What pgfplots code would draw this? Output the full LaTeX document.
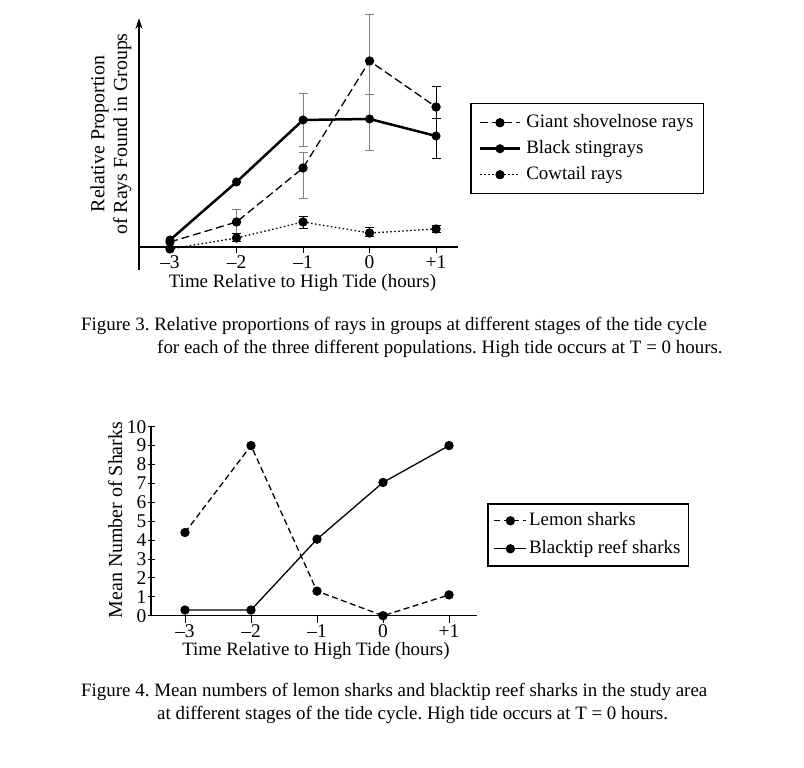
\documentclass[border=0pt]{standalone}
\usepackage{pgfplots}
\pgfplotsset{compat=1.18}
\usepackage{fontspec}
\setmainfont{Liberation Serif}
\usetikzlibrary{arrows.meta}
\newcommand{\ff}{\fontsize{19}{23}\selectfont\frenchspacing}
\newcommand{\fl}{\fontsize{20}{23}\selectfont}
\newcommand{\ft}{\fontsize{19.5}{23}\selectfont}
\begin{document}
\begin{tikzpicture}[x=1bp,y=1bp]
\useasboundingbox (0,0) rectangle (804,768);
% ---------------- Figure 3 ----------------
\begin{axis}[
  at={(139bp,498bp)}, anchor=south west,
  scale only axis, width=319bp, height=252bp,
  xmin=-3.466, xmax=1.33, ymin=-2.3, ymax=22.9,
  axis x line=middle, axis y line=left,
  x axis line style={-, line width=1.2bp},
  y axis line style={-{Stealth[length=11bp,width=7bp]}, line width=1.2bp},
  ytick=\empty,
  xtick={-3,-2,-1,0,1}, xticklabels={–3,–2,–1,0,+1},
  tick align=outside, major tick length=6bp,
  tick style={black, line width=0.8bp},
  font=\ff, tick label style={font=\ft},
  xticklabel style={inner sep=2bp},
  xlabel={Time Relative to High Tide (hours)},
  xlabel style={at={(axis description cs:0.5125,-0.0714)}, anchor=base, inner sep=0pt, font=\ff},
  ylabel={Relative Proportion\\of Rays Found in Groups},
  ylabel style={at={(axis description cs:-0.0878,0.5397)}, anchor=center, align=center, rotate=0, font=\fl},
  clip=false,
  legend style={at={(axis description cs:1.0376,0.6627)}, anchor=north west, draw=black, line width=1.5bp,
    font=\ff, inner xsep=8bp, inner ysep=8.5bp, row sep=5bp, column sep=3bp,
    nodes={inner sep=2bp, text height=13bp, text depth=4bp}},
  legend cell align=left,
  legend image code/.code={\draw[mark repeat=2,mark phase=2] plot coordinates {(0bp,0bp) (20bp,0bp) (40bp,0bp)};},
]
% error bars (grey)
\addplot[forget plot, only marks, mark=none,
  error bars/.cd, y dir=both, y explicit,
  error bar style={draw=black!50, line width=1bp},
  error mark options={rotate=90, draw=black!50, mark size=4.5bp, line width=1bp}]
  coordinates {
  (-2,2.5) += (0,1.2) -= (0,1.7)
  (-1,7.9) += (0,1.5) -= (0,3.1)
  (0,18.6) += (0,4.6) -= (0,3.4)
  (-1,12.7) += (0,2.6) -= (0,2.7)
  (0,12.8) += (0,2.4) -= (0,3.2)
  };
% error bars (black)
\addplot[forget plot, only marks, mark=none,
  error bars/.cd, y dir=both, y explicit,
  error bar style={draw=black, line width=1bp},
  error mark options={rotate=90, draw=black, mark size=4.5bp, line width=1bp}]
  coordinates {
  (1,14.0) += (0,2.0) -= (0,1.2)
  (1,11.1) += (0,1.7) -= (0,2.3)
  (-2,0.9) += (0,0.4) -= (0,0.4)
  (-1,2.5) += (0,0.5) -= (0,0.7)
  (0,1.4) += (0,0.5) -= (0,0.4)
  (1,1.8) += (0,0.3) -= (0,0.4)
  };
\addplot[black, line width=1.3bp, dash pattern=on 8bp off 4bp, mark=*, mark size=4bp, mark options={solid, fill=black}]
  coordinates {(-3,0.5) (-2,2.5) (-1,7.9) (0,18.6) (1,14.0)};
\addlegendentry{Giant shovelnose rays}
\addplot[black, line width=2.5bp, mark=*, mark size=4bp, mark options={solid, fill=black, line width=1bp}]
  coordinates {(-3,0.7) (-2,6.5) (-1,12.7) (0,12.8) (1,11.1)};
\addlegendentry{Black stingrays}
\addplot[black, line width=1.3bp, dash pattern=on 1.5bp off 2.5bp, mark=*, mark size=4bp, mark options={solid, fill=black}]
  coordinates {(-3,-0.2) (-2,0.9) (-1,2.5) (0,1.4) (1,1.8)};
\addlegendentry{Cowtail rays}
\end{axis}
\node[anchor=base west, inner sep=0pt, font=\ff] at (81,437) {Figure 3. Relative proportions of rays in groups at different stages of the tide cycle};
\node[anchor=base west, inner sep=0pt, font=\ff] at (157,414) {for each of the three different populations. High tide occurs at T = 0 hours.};
% ---------------- Figure 4 ----------------
\begin{axis}[
  at={(151bp,152.3bp)}, anchor=south west,
  scale only axis, width=326bp, height=189bp,
  xmin=-3.515, xmax=1.424, ymin=0, ymax=10,
  axis x line=bottom, axis y line=left,
  x axis line style={-, line width=1.2bp},
  y axis line style={-, line width=1.2bp},
  xtick={-3,-2,-1,0,1}, xticklabels={–3,–2,–1,0,+1},
  ytick={0,1,2,3,4,5,6,7,8,9,10}, yticklabels={0,1,2,3,4,5,6,7,8,9,10},
  x tick style={black, line width=0.8bp},
  y tick style={black, line width=0.8bp},
  xtick align=outside, ytick align=center, major tick length=7bp,
  font=\ff, tick label style={font=\ft},
  yticklabel style={inner sep=1bp}, xticklabel style={inner sep=2bp},
  xlabel={Time Relative to High Tide (hours)},
  xlabel style={at={(axis description cs:0.506,-0.208)}, anchor=base, inner sep=0pt, font=\ff},
  ylabel={Mean Number of Sharks},
  ylabel style={at={(axis description cs:-0.110,0.506)}, anchor=center, rotate=0, font=\fl},
  clip=false,
  legend style={at={(axis description cs:1.0307,0.596)}, anchor=north west, draw=black, line width=1.5bp,
    font=\ff, inner xsep=6bp, inner ysep=6.5bp, row sep=7bp, column sep=0bp,
    nodes={inner sep=2bp, text height=13bp, text depth=4bp}},
  legend cell align=left,
  legend image code/.code={\draw[mark repeat=2,mark phase=2] plot coordinates {(0bp,0bp) (16bp,0bp) (32bp,0bp)};},
]
\addplot[black, line width=1.3bp, dash pattern=on 6bp off 3.5bp, mark=*, mark size=4bp, mark options={solid, fill=black}]
  coordinates {(-3,4.4) (-2,9.0) (-1,1.3) (0,0.0) (1,1.1)};
\addlegendentry{Lemon sharks}
\addplot[black, line width=1.3bp, mark=*, mark size=4bp, mark options={solid, fill=black}]
  coordinates {(-3,0.3) (-2,0.3) (-1,4.05) (0,7.05) (1,9.0)};
\addlegendentry{Blacktip reef sharks}
\end{axis}
\node[anchor=base west, inner sep=0pt, font=\ff] at (81,71) {Figure 4. Mean numbers of lemon sharks and blacktip reef sharks in the study area};
\node[anchor=base west, inner sep=0pt, font=\ff] at (157,48) {at different stages of the tide cycle. High tide occurs at T = 0 hours.};
\end{tikzpicture}
\end{document}
